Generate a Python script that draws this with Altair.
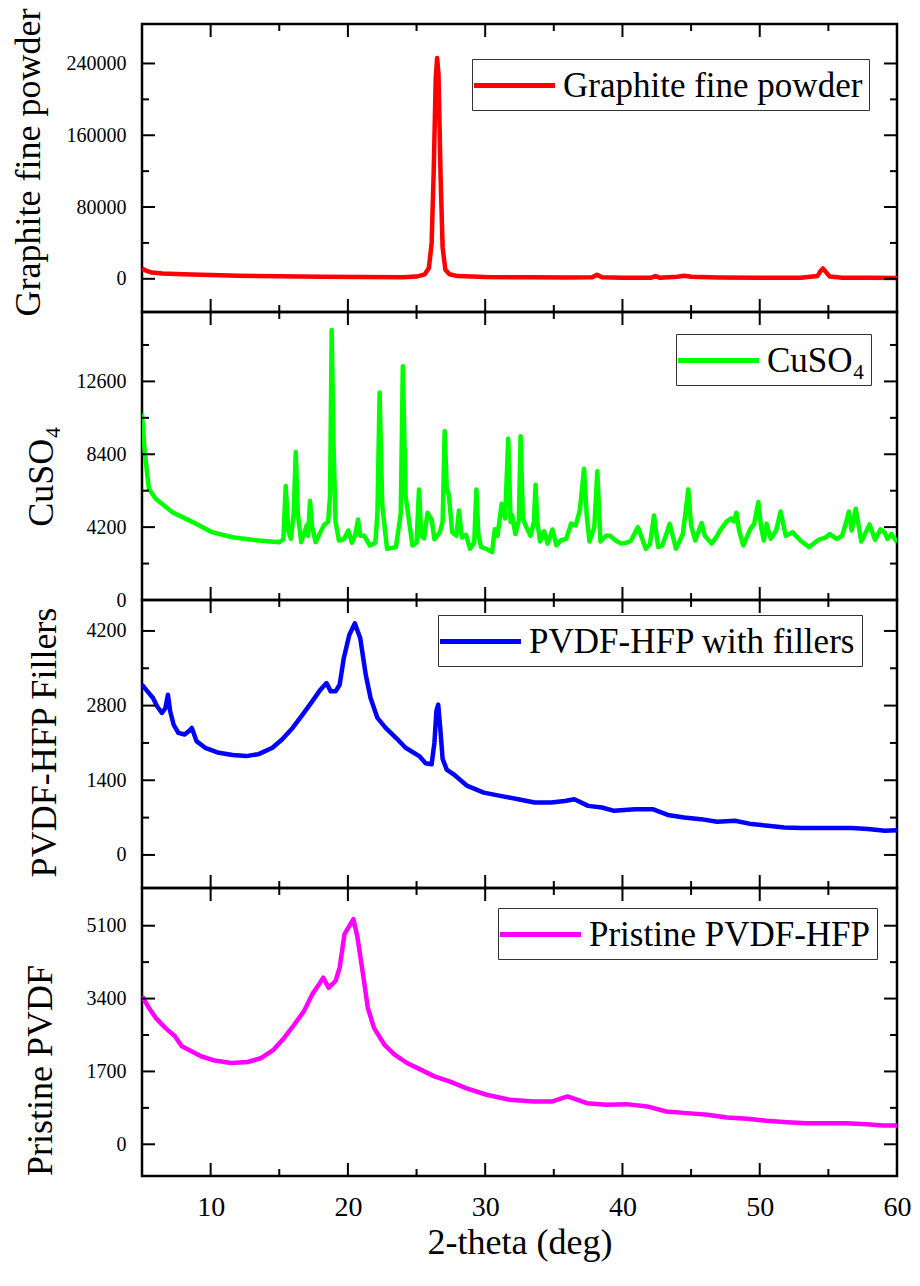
import altair as alt
import pandas as pd

FONT = "Liberation Serif"
W, H = 755, 288

X_DOMAIN = [5, 60]
X_MAJOR = [10, 20, 30, 40, 50, 60]
X_MINOR = [15, 25, 35, 45, 55]
X_TITLE = "2-theta (deg)"

# ---- Graphite fine powder ----
graphite_x = [5.0, 5.3, 5.7, 6.5, 8, 10, 12, 15, 18, 21, 24, 25.0, 25.6, 25.9, 26.1, 26.25, 26.4, 26.5,
              26.6, 26.75, 26.9, 27.1, 27.4, 28, 30, 33, 36, 37.8, 38.15, 38.5, 40, 42.1, 42.4, 42.7,
              44.0, 44.5, 45.0, 47, 50, 53, 54.2, 54.45, 54.6, 54.8, 55.1, 56, 58, 60]
graphite_y = [11500, 9000, 7000, 6000, 5000, 4200, 3500, 2800, 2300, 2000, 1800, 2500, 5000, 12000,
              40000, 120000, 225000, 246000, 228000, 115000, 35000, 10000, 5000, 3000, 2000, 1600,
              1500, 1700, 4500, 1800, 1300, 1300, 3000, 1300, 2200, 3300, 2200, 1500, 1200, 1300,
              3000, 9000, 11500, 8000, 2500, 1300, 1100, 1000]

# ---- CuSO4 ----
cuso4_x = [5.0, 5.2, 5.5, 6.0, 7.2, 8.7, 10.1, 11.6, 13.5, 15.0, 15.3, 15.47, 15.65, 15.85, 16.05, 16.2,
           16.35, 16.6, 17.0, 17.1, 17.24, 17.4, 17.65, 18.25, 18.56, 18.7, 18.82, 18.95, 19.1, 19.35,
           19.7, 20.03, 20.3, 20.55, 20.74, 20.9, 21.2, 21.6, 22.0, 22.15, 22.31, 22.5, 22.85, 23.5,
           23.85, 24.0, 24.2, 24.7, 25.0, 25.18, 25.35, 25.55, 25.8, 26.1, 26.3, 26.7, 26.9, 27.05,
           27.2, 27.35, 27.6, 27.9, 28.09, 28.3, 28.6, 28.9, 29.2, 29.36, 29.5, 29.7, 30.1, 30.5, 30.7,
           30.9, 31.2, 31.45, 31.68, 31.85, 31.96, 32.2, 32.45, 32.58, 32.75, 33.0, 33.3, 33.55, 33.67,
           33.8, 34.0, 34.3, 34.55, 34.9, 35.2, 35.5, 35.9, 36.26, 36.6, 36.9, 37.2, 37.4, 37.6, 37.95,
           38.17, 38.4, 38.8, 39.1, 39.5, 39.9, 40.3, 40.6, 41.13, 41.7, 42.0, 42.3, 42.6, 42.9, 43.2,
           43.44, 43.9, 44.4, 44.8, 45.0, 45.3, 45.77, 46.0, 46.5, 46.9, 47.1, 47.6, 47.9, 48.1, 48.3,
           48.5, 48.8, 49.3, 49.6, 49.9, 50.1, 50.3, 50.5, 50.8, 51.2, 51.52, 51.9, 52.4, 53.0, 53.6,
           54.0, 54.3, 54.8, 55.1, 55.6, 56.0, 56.3, 56.5, 56.7, 56.99, 57.2, 57.4, 58.0, 58.4, 58.8,
           59.1, 59.3, 59.6, 60.0]
cuso4_y = [10745, 8530, 6410, 5835, 5066, 4490, 3911, 3620, 3430, 3333, 3500, 6568, 4000, 3525, 5000,
           8533, 5000, 3333, 4313, 3700, 5700, 4200, 3333, 4315, 4507, 6000, 15560, 9000, 4500, 3430,
           3500, 4007, 3300, 3800, 4643, 3700, 3700, 3140, 3300, 5000, 11960, 5500, 2950, 3050, 5000,
           13480, 6000, 3140, 3300, 6376, 3700, 3550, 5027, 4650, 3500, 3900, 4500, 9727, 6500, 6063,
           3900, 3700, 5163, 3600, 3750, 2950, 3300, 6376, 3800, 3050, 2950, 2755, 4073, 3700, 5547,
           4700, 9300, 4500, 4900, 3800, 4600, 9440, 4700, 4200, 3700, 4500, 6645, 4500, 3370, 3960,
           3250, 4067, 3150, 3430, 3520, 4400, 4300, 5200, 7568, 4850, 3370, 4200, 7416, 3370, 3700,
           3700, 3430, 3250, 3300, 3400, 4200, 2950, 3200, 4875, 3050, 3140, 3800, 4392, 2950, 3800,
           6376, 4300, 3430, 4430, 3700, 3250, 3700, 4000, 4530, 4700, 4530, 5027, 4000, 3140, 4070,
           4400, 5645, 4200, 3430, 4390, 3530, 4000, 5105, 3700, 3900, 3400, 3050, 3300, 3480, 3600,
           3800, 3520, 3700, 4500, 5105, 4000, 5260, 4300, 3370, 4354, 3470, 4070, 3900, 3520, 3800,
           3333]

# ---- PVDF-HFP with fillers ----
filler_x = [5.0, 5.4, 5.8, 6.1, 6.45, 6.7, 6.89, 7.05, 7.3, 7.65, 8.1, 8.5, 8.63, 8.97, 9.6, 10.6, 11.6,
            12.6, 13.5, 14.5, 15.2, 15.97, 16.7, 17.4, 18.0, 18.44, 18.75, 19.1, 19.4, 19.7, 20.1, 20.5,
            20.9, 21.3, 21.65, 22.15, 22.75, 23.5, 24.2, 25.2, 25.66, 26.1, 26.3, 26.45, 26.58, 26.72,
            26.9, 27.2, 27.7, 28.7, 29.9, 31.1, 32.4, 33.6, 34.8, 35.8, 36.5, 37.5, 38.5, 39.4, 40.9,
            42.2, 43.3, 44.5, 45.7, 46.9, 48.2, 49.4, 50.6, 51.8, 53.0, 54.2, 55.4, 56.7, 57.9, 59.1, 60.0]
filler_y = [3192, 3067, 2943, 2787, 2662, 2750, 3005, 2700, 2445, 2289, 2258, 2340, 2382, 2134, 2009,
            1915, 1872, 1853, 1890, 2009, 2165, 2382, 2632, 2880, 3099, 3222, 3067, 3067, 3192, 3689,
            4125, 4342, 4062, 3379, 2943, 2569, 2382, 2196, 2009, 1853, 1720, 1700, 2100, 2700, 2819,
            2400, 1800, 1600, 1512, 1294, 1169, 1107, 1045, 983, 983, 1010, 1045, 920, 889, 827, 858,
            858, 750, 702, 671, 622, 640, 578, 547, 516, 504, 504, 504, 504, 485, 453, 465]

# ---- Pristine PVDF-HFP ----
pristine_x = [5.0, 5.5, 6.0, 6.7, 7.4, 7.9, 8.6, 9.3, 10.3, 11.5, 12.7, 13.7, 14.6, 15.35, 16.1, 16.8,
              17.4, 17.9, 18.2, 18.6, 19.1, 19.4, 19.75, 20.4, 20.7, 21.1, 21.45, 21.9, 22.65, 23.4,
              24.3, 25.3, 26.3, 27.4, 28.6, 30.1, 31.8, 33.5, 34.9, 36.0, 37.4, 38.8, 40.3, 41.8, 43.2,
              44.7, 46.2, 47.6, 49.1, 50.5, 52.0, 53.4, 54.9, 56.3, 57.8, 59.0, 60.0]
pristine_y = [3458, 3185, 2950, 2716, 2522, 2288, 2171, 2054, 1953, 1897, 1920, 2014, 2210, 2482, 2795,
              3107, 3498, 3732, 3887, 3654, 3810, 4121, 4903, 5254, 4824, 3967, 3185, 2716, 2327, 2093,
              1897, 1742, 1585, 1468, 1312, 1156, 1039, 1000, 1000, 1117, 960, 922, 937, 883, 766, 727,
              688, 625, 594, 547, 516, 492, 492, 492, 469, 438, 438]

PANELS = [
    dict(x=graphite_x, y=graphite_y, name="Graphite fine powder", color="#FF0000",
         title="Graphite fine powder", ydom=[-37000, 284000],
         ymaj=[0, 80000, 160000, 240000], ymin=[40000, 120000, 200000],
         tx=-103, ty=138, lx=330, ly=35),
    dict(x=cuso4_x, y=cuso4_y, name="CuSO₄", color="#00FF00",
         title="CuSO₄", ydom=[0, 16600],
         ymaj=[0, 4200, 8400, 12600], ymin=[2100, 6300, 10500, 14700],
         tx=-90, ty=164, lx=534, ly=22),
    dict(x=filler_x, y=filler_y, name="PVDF-HFP with fillers", color="#0000FF",
         title="PVDF-HFP Fillers", ydom=[-620, 4780],
         ymaj=[0, 1400, 2800, 4200], ymin=[700, 2100, 3500],
         tx=-87, ty=142, lx=296, ly=15),
    dict(x=pristine_x, y=pristine_y, name="Pristine PVDF-HFP", color="#FF00FF",
         title="Pristine PVDF", ydom=[-740, 5980],
         ymaj=[0, 1700, 3400, 5100], ymin=[850, 2550, 4250],
         tx=-91, ty=182, lx=356, ly=20),
]

MAJ, MIN = 13, 7
LEGEND_LINE = "M-2.25,0H2.25"


def xscale():
    return alt.Scale(domain=X_DOMAIN, nice=False, zero=False)


def make_panel(p, bottom):
    ysc = alt.Scale(domain=p["ydom"], nice=False, zero=False)
    df = pd.DataFrame({"x": p["x"], "y": p["y"], "series": p["name"]})
    if bottom:
        xaxis = alt.Axis(values=X_MAJOR, ticks=False, domain=False, grid=False, format="d",
                         labelFont=FONT, labelFontSize=28, labelColor="black",
                         labelPadding=17, labelFlush=False, labelOverlap=False,
                         title=X_TITLE, titleFont=FONT, titleFontSize=36,
                         titleFontWeight="normal", titleColor="black",
                         titleBaseline="alphabetic", titleY=77)
    else:
        xaxis = alt.Axis(values=X_MAJOR, ticks=False, domain=False, grid=False, labels=False,
                         title=None)
    yaxis = alt.Axis(values=p["ymaj"], ticks=False, domain=False, grid=False, format="d",
                     labelFont=FONT, labelFontSize=20, labelColor="black",
                     labelPadding=16, labelOverlap=False, labelBound=False, labelFlush=False,
                     title=p["title"], titleFont=FONT, titleFontSize=36, titleFontWeight="normal",
                     titleColor="black", titleAngle=270, titleAlign="center",
                     titleBaseline="alphabetic", titleX=p["tx"], titleY=p["ty"])
    line = alt.Chart(df).mark_line(strokeWidth=4.5, clip=True, strokeJoin="round").encode(
        x=alt.X("x:Q", scale=xscale(), axis=xaxis),
        y=alt.Y("y:Q", scale=ysc, axis=yaxis),
        color=alt.Color("series:N",
                        scale=alt.Scale(domain=[p["name"]], range=[p["color"]]),
                        legend=alt.Legend(orient="none", legendX=p["lx"], legendY=p["ly"],
                                          title=None, symbolType=LEGEND_LINE, symbolSize=1296,
                                          symbolStrokeWidth=5, symbolStrokeColor=p["color"],
                                          symbolOffset=16, labelOffset=28,
                                          labelFont=FONT, labelFontSize=35,
                                          labelColor="black", labelLimit=0,
                                          padding=6, strokeColor="#333333",
                                          fillColor="white")),
    )
    layers = [line]
    for vals, ln in ((X_MAJOR, MAJ), (X_MINOR, MIN)):
        tdf = pd.DataFrame({"x": vals})
        for y0, y1 in ((0, ln), (H, H - ln)):
            layers.append(alt.Chart(tdf).mark_rule(color="black", strokeWidth=2).encode(
                x=alt.X("x:Q", scale=xscale(), axis=xaxis),
                y=alt.value(y0), y2=alt.value(y1)))
    for vals, ln in ((p["ymaj"], MAJ), (p["ymin"], MIN)):
        tdf = pd.DataFrame({"y": vals})
        for x0, x1 in ((0, ln), (W, W - ln)):
            layers.append(alt.Chart(tdf).mark_rule(color="black", strokeWidth=2).encode(
                y=alt.Y("y:Q", scale=ysc, axis=yaxis),
                x=alt.value(x0), x2=alt.value(x1)))
    return alt.layer(*layers).properties(width=W, height=H)


panels = [make_panel(p, i == len(PANELS) - 1) for i, p in enumerate(PANELS)]

chart = alt.vconcat(*panels, spacing=0, bounds="flush").resolve_scale(
    x="independent", y="independent", color="independent"
).resolve_legend(color="independent").properties(
    padding={"left": 8, "top": 6, "right": 5, "bottom": 5},
    background="white",
).configure_view(stroke="black", strokeWidth=2.5)

chart.save("out.html", embed_options={"renderer": "svg", "actions": False})
